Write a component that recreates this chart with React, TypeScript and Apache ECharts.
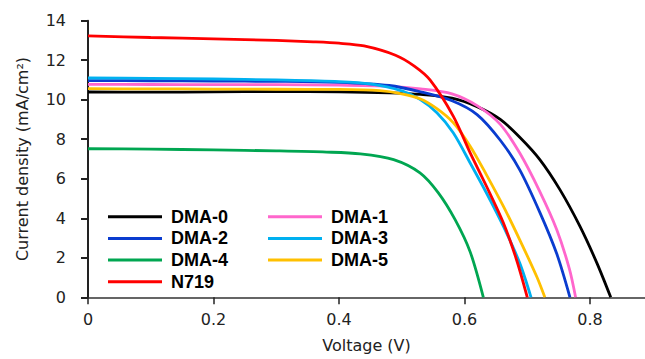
import React, { useEffect, useRef } from "react";
import * as echarts from "echarts";

const seriesNames = ["DMA-0", "DMA-1", "DMA-2", "DMA-3", "DMA-4", "DMA-5", "N719"];
const seriesColors = ["#000000", "#ff66cc", "#0a3ccf", "#00b0f0", "#00a651", "#ffc000", "#ff0000"];

const dma0: number[][] = [[0, 10.39], [0.1, 10.38], [0.2, 10.4], [0.3, 10.41], [0.4, 10.4], [0.48, 10.35], [0.53, 10.27], [0.58, 10.08], [0.62, 9.65], [0.657, 9.0], [0.688, 8.1], [0.72, 6.97], [0.752, 5.45], [0.784, 3.59], [0.811, 1.73], [0.833, 0]];
const dma1: number[][] = [[0, 10.78], [0.1, 10.77], [0.2, 10.76], [0.3, 10.76], [0.4, 10.74], [0.48, 10.68], [0.53, 10.55], [0.58, 10.3], [0.62, 9.7], [0.657, 8.75], [0.688, 7.3], [0.72, 5.35], [0.747, 3.42], [0.767, 1.45], [0.777, 0]];
const dma2: number[][] = [[0, 10.97], [0.1, 10.96], [0.2, 10.94], [0.3, 10.93], [0.4, 10.88], [0.48, 10.72], [0.53, 10.4], [0.58, 9.95], [0.62, 9.25], [0.657, 7.95], [0.688, 6.45], [0.72, 4.3], [0.747, 2.2], [0.768, 0]];
const dma3: number[][] = [[0, 11.1], [0.1, 11.08], [0.2, 11.05], [0.3, 11.0], [0.4, 10.92], [0.45, 10.8], [0.5, 10.45], [0.529, 10.02], [0.556, 9.34], [0.582, 8.33], [0.609, 6.8], [0.635, 5.28], [0.662, 3.59], [0.688, 1.73], [0.706, 0]];
const dma4: number[][] = [[0, 7.52], [0.1, 7.5], [0.2, 7.46], [0.3, 7.41], [0.38, 7.35], [0.434, 7.26], [0.487, 6.97], [0.529, 6.3], [0.558, 5.3], [0.585, 3.93], [0.609, 2.3], [0.63, 0]];
const dma5: number[][] = [[0, 10.56], [0.1, 10.55], [0.2, 10.54], [0.3, 10.53], [0.4, 10.52], [0.465, 10.46], [0.5, 10.3], [0.529, 10.05], [0.556, 9.55], [0.582, 8.84], [0.609, 7.65], [0.635, 6.2], [0.662, 4.6], [0.688, 2.91], [0.715, 1.05], [0.728, 0]];
const n719: number[][] = [[0, 13.23], [0.1, 13.15], [0.2, 13.08], [0.3, 13.0], [0.359, 12.93], [0.4, 12.86], [0.44, 12.72], [0.49, 12.25], [0.52, 11.7], [0.545, 11.0], [0.582, 9.17], [0.609, 7.31], [0.635, 5.62], [0.662, 3.76], [0.683, 1.89], [0.7, 0]];

const seriesData = [dma0, dma1, dma2, dma3, dma4, dma5, n719];
const legendLeft = ["DMA-0", "DMA-2", "DMA-4", "N719"];
const legendRight = ["DMA-1", "DMA-3", "DMA-5"];

const xName = "Voltage (V)";
const yName = "Current density (mA/cm²)";

export default function App() {
  const ref = useRef<HTMLDivElement>(null);
  useEffect(() => {
    if (!ref.current) return;
    const chart = echarts.init(ref.current, null, { renderer: "svg" });
    const axisFont = { fontFamily: "DejaVu Sans", fontSize: 16, color: "#222" };
    const legendCommon = {
      orient: "vertical" as const,
      padding: 0,
      icon: "rect",
      itemWidth: 54,
      itemHeight: 3,
      itemGap: 1.7,
      top: 206.7,
      textStyle: {
        fontFamily: "Liberation Sans, Arial",
        fontWeight: "bold" as const,
        fontSize: 18,
        color: "#000",
        lineHeight: 20,
        padding: [0, 0, 0, 4],
      },
    };
    chart.setOption({
      animation: false,
      backgroundColor: "#ffffff",
      grid: { left: 88, right: 0, top: 20.7, bottom: 61.7, containLabel: false },
      legend: [
        { ...legendCommon, left: 108, data: legendLeft },
        { ...legendCommon, left: 268, data: legendRight },
      ],
      xAxis: {
        type: "value",
        min: 0,
        max: 0.8876,
        interval: 0.2,
        name: xName,
        nameLocation: "middle",
        nameGap: 40,
        nameTextStyle: axisFont,
        axisLine: { lineStyle: { color: "#333", width: 1.5 } },
        axisTick: { show: true, inside: false, length: 7, lineStyle: { color: "#222", width: 1.5 } },
        axisLabel: { ...axisFont, margin: 14, showMaxLabel: false },
        splitLine: { show: false },
      },
      yAxis: {
        type: "value",
        min: 0,
        max: 14,
        interval: 2,
        name: yName,
        nameLocation: "middle",
        nameRotate: 90,
        nameGap: 58,
        nameTextStyle: axisFont,
        axisLine: { show: true, lineStyle: { color: "#222", width: 2 } },
        axisTick: { show: true, inside: false, length: 7, lineStyle: { color: "#222", width: 2 } },
        axisLabel: { ...axisFont, margin: 22 },
        splitLine: { show: false },
      },
      series: seriesNames.map((name, i) => ({
        name,
        type: "line",
        data: seriesData[i],
        smooth: 0.3,
        showSymbol: false,
        symbol: "none",
        color: seriesColors[i],
        itemStyle: { color: seriesColors[i] },
        lineStyle: { color: seriesColors[i], width: 2.8 },
        z: 2 + i,
      })),
    });
    return () => chart.dispose();
  }, []);
  return (
    <div
      ref={ref}
      style={{ position: "fixed", left: 0, top: 0, width: 645, height: 359 }}
    />
  );
}
